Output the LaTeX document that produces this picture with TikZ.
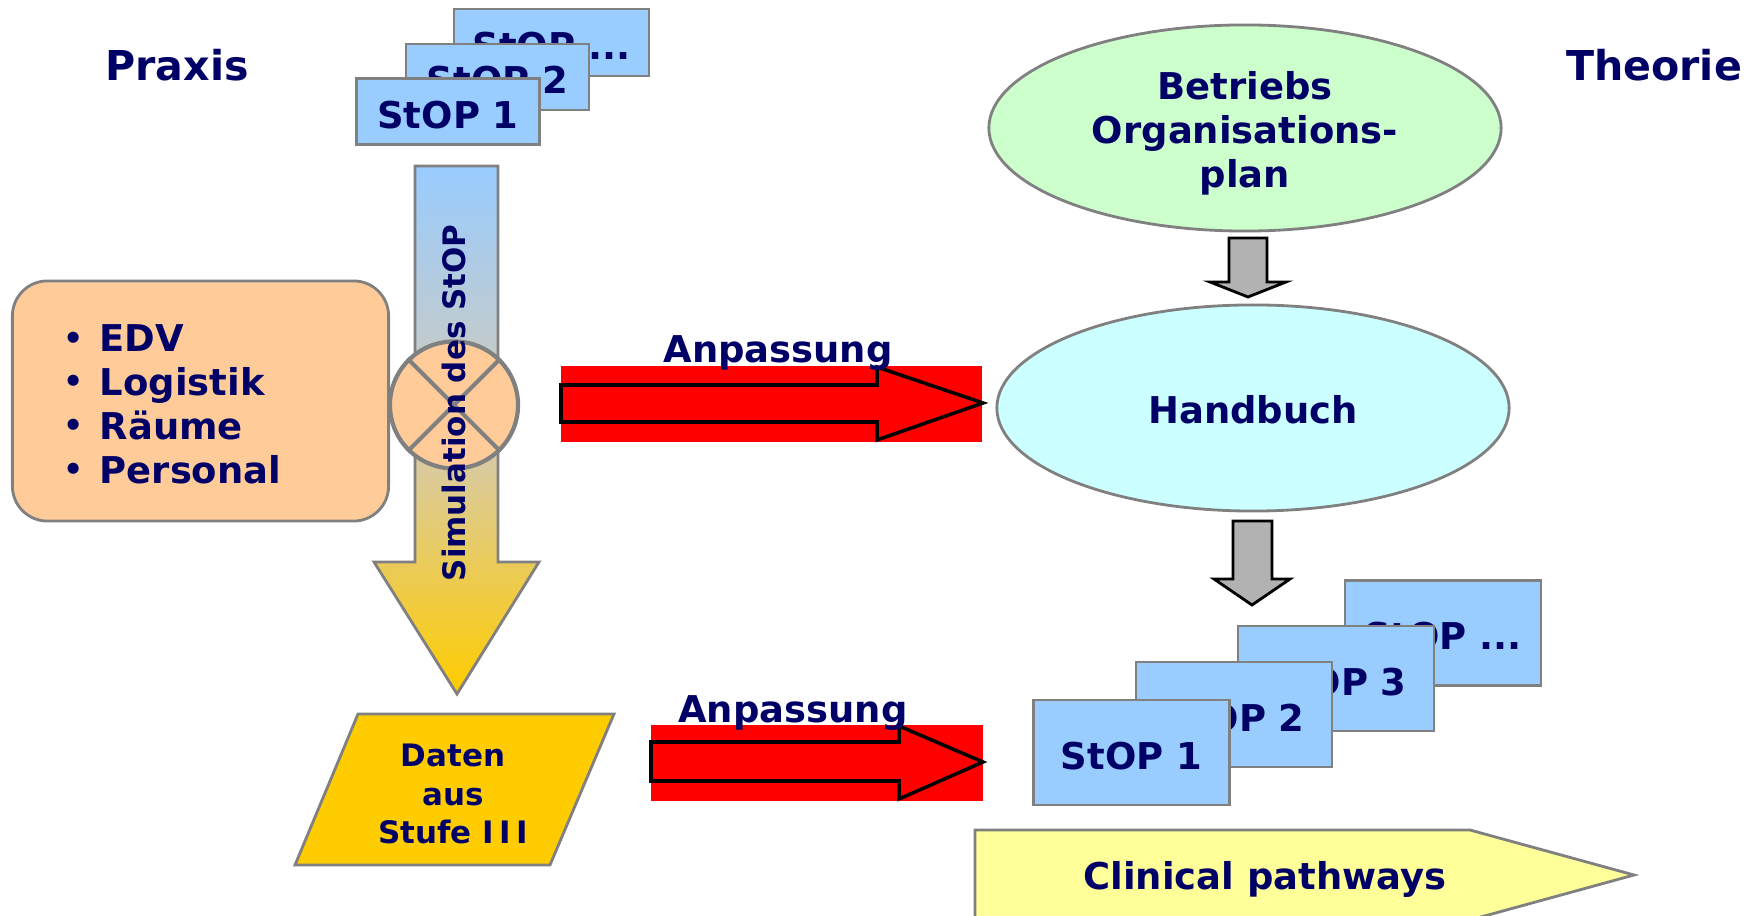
\documentclass[tikz,border=0pt]{standalone}
\usepackage{fontspec}
\setmainfont{DejaVu Sans}
\usetikzlibrary{shapes.geometric}

\definecolor{navy}{RGB}{0,0,102}
\definecolor{stopblue}{RGB}{153,204,255}
\definecolor{boxgray}{RGB}{128,128,128}
\definecolor{peach}{RGB}{255,204,153}
\definecolor{mint}{RGB}{204,255,204}
\definecolor{palecyan}{RGB}{204,255,255}
\definecolor{gold}{RGB}{255,204,0}
\definecolor{tan}{RGB}{212,202,182}
\definecolor{paleyellow}{RGB}{255,255,153}
\definecolor{arrowgray}{RGB}{178,178,178}

\newcommand{\itm}{\makebox[0.36cm][l]{\raisebox{0.06em}{\fontsize{9}{9}\selectfont\textbullet}}}

\tikzset{
  lbl/.style={text=navy, font=\bfseries\fontsize{10.5}{12.5}\selectfont},
  stoptop/.style={lbl, draw=boxgray, line width=0.8pt, fill=stopblue, minimum width=1.83cm, minimum height=0.66cm, inner sep=0pt, text height=0.33cm, text depth=0pt},
  stopright/.style={stoptop, minimum width=1.96cm, minimum height=1.05cm},
  oval/.style={ellipse, draw=boxgray, line width=0.8pt, minimum width=5.12cm, minimum height=2.06cm, inner sep=1pt},
  redarrow/.style={draw=black, line width=1pt, fill=red},
  grayarrow/.style={draw=black, line width=0.8pt, fill=arrowgray},
}

\begin{document}
\begin{tikzpicture}[x=0.01cm, y=-0.01cm]
\useasboundingbox (0,0) rectangle (1763,916);

% Titel
\node[lbl, font=\bfseries\fontsize{11.7}{13}\selectfont] (praxis) at (177,65) {Praxis};
\node[lbl, font=\bfseries\fontsize{11.7}{13}\selectfont] (theorie) at (1654,65) {Theorie};

% StOP Stapel oben
\node[stoptop, minimum width=1.95cm, minimum height=0.67cm] (tdots) at (551.5,42.5) {StOP ...};
\node[stoptop] (ttwo) at (497.5,77) {StOP 2};
\node[stoptop] (tone) at (448,111.5) {StOP 1};

% Simulationspfeil
\draw[boxgray, line width=0.8pt, top color=stopblue, bottom color=gold, middle color=tan]
  (415,166) -- (498,166) -- (498,562) -- (539,562) -- (457,694) -- (374,562) -- (415,562) -- cycle;

% Ressourcen
\node[draw=boxgray, line width=0.8pt, fill=peach, rounded corners=0.35cm,
  minimum width=3.76cm, minimum height=2.4cm] (resources) at (200.5,401) {};
\node[lbl, align=left, anchor=west, inner sep=0pt] (items) at (63,404)
  {\itm EDV\\ \itm Logistik\\ \itm Räume\\ \itm Personal};

\node[ellipse, draw=boxgray, line width=1.2pt, fill=peach, minimum width=1.28cm, minimum height=1.27cm] (mix) at (454,405) {};
\draw[boxgray, line width=1.2pt] (mix.45) -- (mix.225) (mix.135) -- (mix.315);
\node[lbl, font=\bfseries\fontsize{8.8}{10}\selectfont, rotate=90] (sim) at (454,403) {Simulation des StOP};

% Anpassung
\fill[red] (561,366) rectangle (982,442);
\draw[redarrow] (561,385) -- (877,385) -- (877,367) -- (983,403) -- (877,440) -- (877,422) -- (561,422) -- cycle;
\node[lbl, anchor=base] (adapt1) at (778,363) {Anpassung};

\fill[red] (651,725) rectangle (983,801);
\draw[redarrow] (651,742) -- (899,742) -- (899,726) -- (983,762) -- (899,799) -- (899,781) -- (651,781) -- cycle;
\node[lbl, anchor=base] (adapt2) at (793,723) {Anpassung};

% Daten
\draw[boxgray, fill=gold, line width=0.8pt] (358,714) -- (614,714) -- (550,865) -- (295,865) -- cycle;
\node[lbl, font=\bfseries\fontsize{8.8}{10.9}\selectfont, align=center] (data) at (453,794) {Daten\\aus\\Stufe I\,I\,I};

% Theorie Seite
\node[oval, fill=mint] (bop) at (1245,128) {};
\node[lbl, align=center] (boptext) at (1245,133) {Betriebs\\Organisations-\\plan};
\node[oval, fill=palecyan] (handbuch) at (1253,408) {};
\node[lbl] (hbtext) at (1253,410) {Handbuch};

\draw[grayarrow] (1229,238) -- (1267,238) -- (1267,282) -- (1286,282) -- (1248,297) -- (1210,282) -- (1229,282) -- cycle;
\draw[grayarrow] (1233,521) -- (1272,521) -- (1272,579) -- (1290,579) -- (1252,605) -- (1214,579) -- (1233,579) -- cycle;

% StOP Stapel unten
\node[stopright] (rdots) at (1443,633) {StOP ...};
\node[stopright] (rthree) at (1336,678.5) {StOP 3};
\node[stopright] (rtwo) at (1234,714.5) {StOP 2};
\node[stopright] (rone) at (1131.5,752.5) {StOP 1};

\draw[boxgray, fill=paleyellow, line width=0.8pt] (975,830) -- (1470,830) -- (1634,875) -- (1470,920) -- (975,920) -- cycle;
\node[lbl] (pathways) at (1265,879) {Clinical pathways};
\end{tikzpicture}
\end{document}
